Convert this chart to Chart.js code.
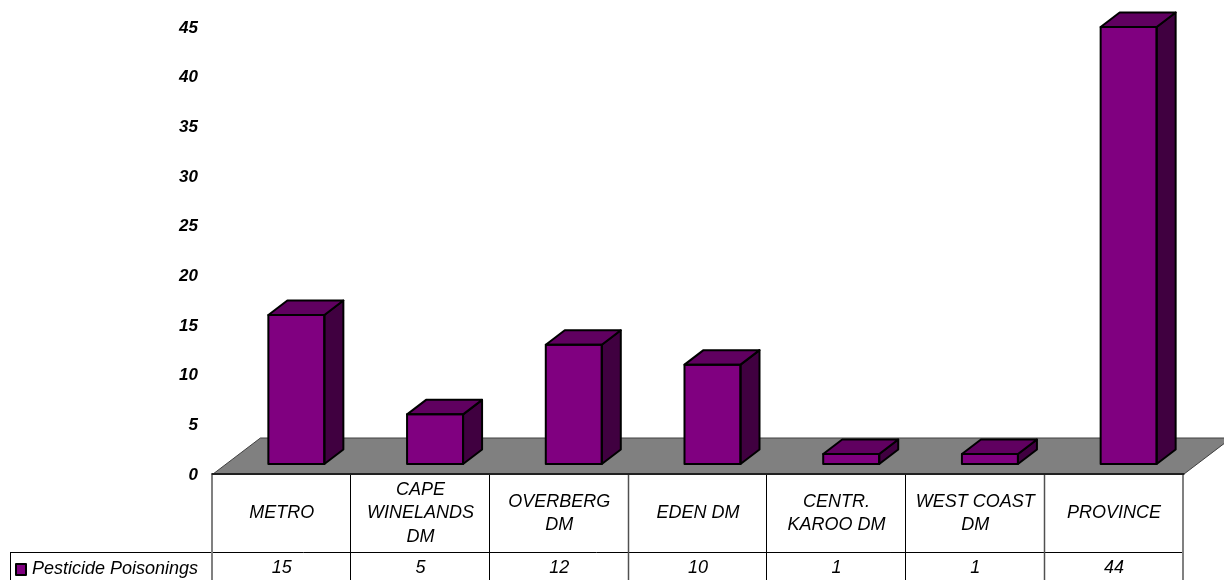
<!DOCTYPE html>
<html>
<head>
<meta charset="utf-8">
<title>Pesticide Poisonings</title>
<script src="https://cdn.jsdelivr.net/npm/chart.js@4/dist/chart.umd.min.js"></script>
<style>
  html, body { margin: 0; padding: 0; background: #fff; overflow: hidden; }
  canvas { display: block; }
</style>
</head>
<body>
<canvas id="chart" width="1224" height="580"></canvas>
<script>
var categories = [["METRO"], ["CAPE", "WINELANDS", "DM"], ["OVERBERG", "DM"], ["EDEN DM"], ["CENTR.", "KAROO DM"], ["WEST COAST", "DM"], ["PROVINCE"]];
var poisonings = [15, 5, 12, 10, 1, 1, 44];
var seriesName = "Pesticide Poisonings";
var yMax = 45;
var yStep = 5;

var FONT = '"Liberation Sans", Arial, sans-serif';
var DEPTH_X = 19, DEPTH_Y = 14.5;   // how far the 3d boxes go back
var TABLE_SHIFT = 14.6;             // table cells sit left of the bars
var TABLE_TOP = 474.5, ROW_Y = 552.5, TABLE_END = 580;

function poly(ctx, pts, fill, stroke, lw) {
    ctx.beginPath();
    ctx.moveTo(pts[0][0], pts[0][1]);
    for (var i = 1; i < pts.length; i++) ctx.lineTo(pts[i][0], pts[i][1]);
    ctx.closePath();
    if (fill) { ctx.fillStyle = fill; ctx.fill(); }
    if (stroke) { ctx.strokeStyle = stroke; ctx.lineWidth = lw; ctx.lineJoin = "round"; ctx.stroke(); }
}

function line(ctx, x1, y1, x2, y2, color, lw) {
    ctx.beginPath();
    ctx.moveTo(x1, y1);
    ctx.lineTo(x2, y2);
    ctx.strokeStyle = color;
    ctx.lineWidth = lw;
    ctx.stroke();
}

// floor and data table go under the bars
var floorAndTable = {
    id: "floorAndTable",
    beforeDatasetsDraw: function(chart) {
        var ctx = chart.ctx, xs = chart.scales.x;
        var cell = xs.getPixelForTick(1) - xs.getPixelForTick(0);
        var left = xs.getPixelForTick(0) - TABLE_SHIFT - cell / 2;
        var right = left + cell * categories.length;
        ctx.save();
        poly(ctx, [[left, TABLE_TOP], [left + 48, 438], [right + 48, 438], [right, TABLE_TOP]], "#808080", "#404040", 1);

        line(ctx, 10, ROW_Y, right, ROW_Y, "#000", 1);
        line(ctx, 10.5, ROW_Y, 10.5, TABLE_END, "#000", 1);
        for (var i = 0; i <= categories.length; i++) {
            var gx = Math.round(left + cell * i) - 0.5;
            if (i == 0 || i == 7) line(ctx, gx + 0.5, TABLE_TOP, gx + 0.5, TABLE_END, "#808080", 2);
            else if (i == 3 || i == 6) line(ctx, gx, TABLE_TOP, gx, TABLE_END, "#505050", 1.5);
            else line(ctx, gx, TABLE_TOP, gx, TABLE_END, "#000", 1);
        }
        line(ctx, left - 1, TABLE_TOP - 0.5, right + 1, TABLE_TOP - 0.5, "#202020", 2);

        // legend key and series name
        poly(ctx, [[16, 564], [26, 564], [26, 575], [16, 575]], "#800080", "#000", 2);
        ctx.fillStyle = "#000";
        ctx.font = "italic 18px " + FONT;
        ctx.textAlign = "left";
        ctx.textBaseline = "middle";
        ctx.fillText(seriesName, 32, 569);

        // value row
        ctx.textAlign = "center";
        for (var j = 0; j < poisonings.length; j++) {
            ctx.fillText(String(poisonings[j]), xs.getPixelForTick(j) - TABLE_SHIFT, 568);
        }
        ctx.restore();
    }
};

// sides and tops of the boxes, taken from the bar elements
var box3d = {
    id: "box3d",
    afterDatasetsDraw: function(chart) {
        var ctx = chart.ctx;
        var bars = chart.getDatasetMeta(0).data;
        ctx.save();
        for (var i = 0; i < bars.length; i++) {
            var b = bars[i];
            var l = b.x - b.width / 2, r = b.x + b.width / 2, t = b.y, u = b.base;
            poly(ctx, [[r, t], [r + DEPTH_X, t - DEPTH_Y], [r + DEPTH_X, u - DEPTH_Y], [r, u]], "#400040", "#000", 2);
            poly(ctx, [[l, t], [l + DEPTH_X, t - DEPTH_Y], [r + DEPTH_X, t - DEPTH_Y], [r, t]], "#600060", "#000", 2);
            poly(ctx, [[l, t], [r, t], [r, u], [l, u]], null, "#000", 2);
        }
        ctx.restore();
    }
};

new Chart(document.getElementById("chart"), {
    type: "bar",
    data: {
        labels: categories,
        datasets: [{
            label: seriesName,
            data: poisonings,
            backgroundColor: "#800080",
            borderWidth: 0,
            barThickness: 56
        }]
    },
    options: {
        responsive: false,
        animation: false,
        layout: { autoPadding: false, padding: { top: 17, right: 26, bottom: 0, left: 0 } },
        plugins: { legend: { display: false }, tooltip: { enabled: false } },
        scales: {
            x: {
                grid: { display: false, drawTicks: false },
                border: { display: false },
                afterFit: function(scale) { scale.height = 116; },
                ticks: {
                    autoSkip: false,
                    maxRotation: 0,
                    minRotation: 0,
                    color: "#000",
                    padding: 26,
                    labelOffset: -TABLE_SHIFT,
                    crossAlign: "center",
                    font: { family: FONT, size: 18, style: "italic", lineHeight: 1.3 }
                }
            },
            y: {
                min: 0,
                max: yMax,
                grid: { display: false, drawTicks: false },
                border: { display: false },
                afterFit: function(scale) { scale.width = 227; scale.paddingTop = 0; },
                ticks: {
                    stepSize: yStep,
                    color: "#000",
                    padding: 29,
                    labelOffset: 11,
                    font: { family: FONT, size: 17, style: "italic", weight: "bold" }
                }
            }
        }
    },
    plugins: [floorAndTable, box3d]
});
</script>
</body>
</html>
